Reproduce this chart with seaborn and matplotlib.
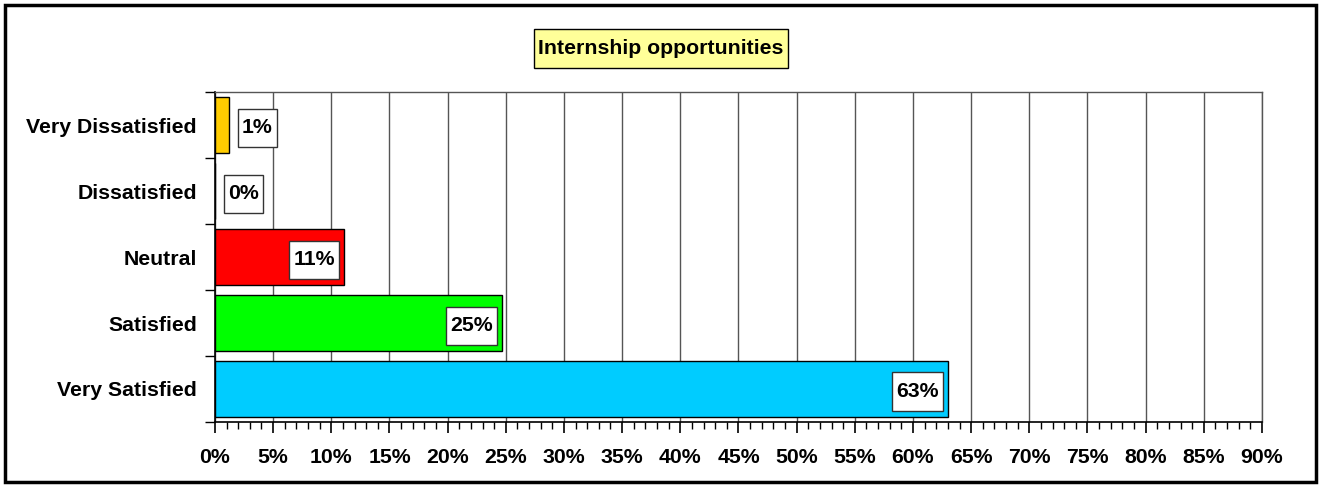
import matplotlib
matplotlib.use("Agg")
import matplotlib.pyplot as plt
import matplotlib.patches as mpatches
from matplotlib.path import Path
from matplotlib.ticker import MultipleLocator, PercentFormatter
import pandas as pd
import seaborn as sns

categories = ["Very Dissatisfied", "Dissatisfied", "Neutral", "Satisfied", "Very Satisfied"]
shares = [1.2, 0.0, 11.1, 24.7, 63.0]
bar_colors = ["#FFCC00", "#FF9900", "#FF0000", "#00FF00", "#00CCFF"]
title = "Internship opportunities"

sns.set_theme(style="white")
plt.rcParams["font.family"] = ["Liberation Sans", "DejaVu Sans"]
plt.rcParams["font.weight"] = "bold"
plt.rcParams["text.color"] = "black"
plt.rcParams["xtick.color"] = "black"
plt.rcParams["ytick.color"] = "black"
FS = 15.3


def excel_box(x0, y0, width, height, mutation_size):
    # Excel-like label box: narrow side padding, tall top/bottom padding
    px, py = 0.2 * mutation_size, 0.46 * mutation_size
    x0, y0 = x0 - px, y0 - py
    x1, y1 = x0 + width + 2 * px, y0 + height + 2 * py
    return Path([(x0, y0), (x1, y0), (x1, y1), (x0, y1), (x0, y0)], closed=True)


df = pd.DataFrame({"category": categories, "share": shares})

fig = plt.figure(figsize=(13.22, 4.87), dpi=100)
ax = fig.add_axes([0.1626, 0.1335, 0.7920, 0.6775])

sns.barplot(data=df, x="share", y="category", hue="category", order=categories,
            palette=bar_colors, saturation=1, dodge=False, legend=False, width=0.85,
            edgecolor="black", linewidth=1, ax=ax, zorder=3)

ax.set_xlim(0, 90)
ax.set_ylim(len(categories) - 0.5, -0.5)
ax.xaxis.set_major_locator(MultipleLocator(5))
ax.xaxis.set_minor_locator(MultipleLocator(1))
ax.xaxis.set_major_formatter(PercentFormatter(decimals=0))
ax.grid(axis="x", which="major", color="#555555", linewidth=1, zorder=0)
ax.set_xlabel(""); ax.set_ylabel("")

ax.set_yticks(range(len(categories)))
ax.set_yticks([i - 0.5 for i in range(len(categories) + 1)], minor=True)
ax.tick_params(axis="y", which="major", length=0, pad=13, labelsize=FS, labelcolor="black")
ax.tick_params(axis="y", which="minor", length=7, width=1, color="black", direction="out")
ax.tick_params(axis="x", which="major", length=8, width=1.2, color="black",
               direction="out", labelsize=FS, pad=11, labelcolor="black")
ax.tick_params(axis="x", which="minor", length=5, width=1, color="black", direction="out")
ax.tick_params(axis="both", bottom=True, left=True, which="both")

for side in ["left", "bottom"]:
    ax.spines[side].set_color("black")
    ax.spines[side].set_linewidth(1.2)
for side in ["top", "right"]:
    ax.spines[side].set_color("#555555")
    ax.spines[side].set_linewidth(1)

box = dict(boxstyle=excel_box, facecolor="white", edgecolor="#333333", linewidth=1)
for i, v in enumerate(shares):
    label = f"{round(v)}%"
    if v > 5:
        ax.annotate(label, (v, i), xytext=(-6.7, -2), textcoords="offset points",
                    ha="right", va="center", fontsize=FS, fontweight="bold",
                    color="black", bbox=box, zorder=5)
    else:
        ax.annotate(label, (v, i), xytext=(9.5, -2), textcoords="offset points",
                    ha="left", va="center", fontsize=FS, fontweight="bold",
                    color="black", bbox=box, zorder=5)

fig.text(0.5, 0.9004, title, ha="center", va="center", fontsize=FS, fontweight="bold",
         color="black",
         bbox=dict(boxstyle=excel_box, facecolor="#FFFF99", edgecolor="black", linewidth=1))

fig.patches.append(mpatches.Rectangle((5 / 1322, 5 / 487), 1311 / 1322, 477 / 487,
                                      transform=fig.transFigure, fill=False,
                                      edgecolor="black", linewidth=2.5))

fig.savefig("out.png", dpi=100)
plt.close(fig)
